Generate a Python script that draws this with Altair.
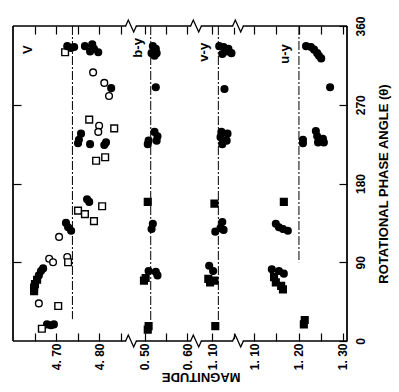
import altair as alt
import pandas as pd

# ---------------- data ----------------
SYM = ["fc", "oc", "fs", "os"]  # filled circle, open circle, filled square, open square

v_phase = [330, 337, 335, 336, 337, 339, 331, 330, 334, 307, 295, 289, 280, 253, 246, 239, 243,
           237, 230, 226, 225, 227, 224, 206, 210, 162, 159, 149, 145, 137, 154, 135, 130, 126,
           119, 96, 90, 94, 90, 83, 80, 75, 70, 65, 61, 57, 43, 40, 19, 18, 19, 14]
v_mag = [4.721, 4.726, 4.735, 4.742, 4.767, 4.784, 4.779, 4.798, 4.788, 4.786, 4.812, 4.828,
         4.823, 4.777, 4.800, 4.798, 4.835, 4.758, 4.753, 4.751, 4.779, 4.816, 4.812, 4.793,
         4.814, 4.772, 4.777, 4.751, 4.767, 4.788, 4.807, 4.723, 4.728, 4.735, 4.707, 4.726,
         4.728, 4.684, 4.693, 4.670, 4.665, 4.660, 4.656, 4.651, 4.649, 4.649, 4.660, 4.705,
         4.679, 4.688, 4.695, 4.667]
v_sym = ["os", "fc", "fc", "fc", "fc", "fc", "fc", "fc", "fc", "oc", "oc", "fc", "oc", "os",
         "oc", "oc", "os", "fc", "fc", "fc", "fc", "fc", "fc", "os", "os", "fc", "fc", "os",
         "os", "os", "os", "fc", "fc", "fc", "oc", "oc", "os", "oc", "oc", "fc", "fc", "fc",
         "fs", "fs", "fs", "fs", "oc", "os", "fc", "fc", "fc", "os"]

by_phase = [337, 334, 329, 329, 326, 290, 239, 234, 229, 229, 225, 159, 134, 128, 80, 79, 75,
            69, 72, 17, 13]
by_mag = [0.519, 0.526, 0.528, 0.516, 0.523, 0.526, 0.523, 0.530, 0.509, 0.528, 0.507, 0.507,
          0.519, 0.516, 0.509, 0.526, 0.530, 0.498, 0.502, 0.509, 0.507]
by_sym = ["fc"] * 11 + ["fs"] + ["fc"] * 5 + ["fs"] * 4

vy_phase = [337, 336, 331, 329, 328, 334, 288, 239, 237, 233, 229, 225, 157, 136, 129, 125,
            127, 86, 80, 71, 67, 69, 17]
vy_mag = [1.116, 1.126, 1.133, 1.144, 1.123, 1.137, 1.128, 1.121, 1.135, 1.119, 1.133, 1.123,
          1.105, 1.123, 1.119, 1.107, 1.126, 1.093, 1.102, 1.091, 1.095, 1.105, 1.107]
vy_sym = ["fc"] * 12 + ["fs"] + ["fc"] * 6 + ["fs"] * 4

uy_phase = [337, 336, 333, 329, 326, 323, 290, 240, 234, 231, 227, 227, 230, 226, 159, 134,
            130, 128, 126, 82, 80, 77, 73, 67, 63, 59, 19, 24]
uy_mag = [1.217, 1.228, 1.235, 1.242, 1.246, 1.251, 1.271, 1.239, 1.242, 1.255, 1.257, 1.244,
          1.210, 1.210, 1.167, 1.149, 1.156, 1.165, 1.176, 1.140, 1.156, 1.167, 1.145, 1.149,
          1.161, 1.165, 1.212, 1.214]
uy_sym = ["fc"] * 14 + ["fs"] + ["fc"] * 7 + ["fs"] * 6

panel_names = ["V", "b-y", "v-y", "u-y"]
mean_mag = [4.738, 0.514, 1.114, 1.201]
mean_end = [25, 12, 15, 90]
label_mag = [4.635, 0.485, 1.080, 1.170]
label_phase = [333, 335, 330, 328]
x_ticks = [[4.65, 4.70, 4.75, 4.80, 4.85], [0.50, 0.55, 0.60], [1.10, 1.15],
           [1.10, 1.15, 1.20, 1.25, 1.30]]
x_domains = [[4.600, 4.874], [0.4674, 0.621], [1.0628, 1.159], [1.064, 1.309]]
phase_ticks = [0, 90, 180, 270, 360]

# ---------------- styling ----------------
FONT = "Liberation Sans"
widths = [118, 65, 42, 109]
HEIGHT = 315
TICK = 8
ZIG = "M -0.9 0 L -0.45 -1 L 0.45 1 L 0.9 0"
MASK = "M -0.8 -0.3 L 0.8 -0.3 L 0.8 0.3 L -0.8 0.3 Z"

series = [(v_phase, v_mag, v_sym), (by_phase, by_mag, by_sym),
          (vy_phase, vy_mag, vy_sym), (uy_phase, uy_mag, uy_sym)]

label_expr = ("round(datum.value*100) % 10 == 0 ? "
              "replace(format(datum.value, '.2f'), '.', '. ') : ''")


def make_panel(i):
    ph, mg, sy = series[i]
    df = pd.DataFrame({"phase": ph, "mag": mg, "sym": sy})
    xscale = alt.Scale(domain=x_domains[i], nice=False, zero=False)
    yscale = alt.Scale(domain=[0, 360], nice=False, zero=False)
    bottom_axis = alt.Axis(orient="bottom", values=x_ticks[i], labelExpr=label_expr,
                           labelAngle=270, domain=False, offset=-TICK, tickSize=TICK,
                           labelPadding=2, title=None, grid=False)
    top_axis = alt.Axis(orient="top", values=x_ticks[i], labels=False, domain=False,
                        offset=-TICK, tickSize=TICK, title=None, grid=False)
    if i == 0:
        yaxis = alt.Axis(orient="left", values=[90, 180, 270], labels=False, domain=False,
                         offset=-TICK, tickSize=TICK, title=None, grid=False)
    elif i == 3:
        yaxis = alt.Axis(orient="right", values=phase_ticks, labelAngle=270, domain=False,
                         offset=-TICK, tickSize=TICK, labelPadding=8, grid=False,
                         title="ROTATIONAL PHASE ANGLE (\u03b8)", titleAngle=270,
                         titlePadding=24)
    else:
        yaxis = None

    pts = alt.Chart(df).mark_point(filled=True, stroke="black", strokeWidth=1.4,
                                   size=45, opacity=1).encode(
        x=alt.X("mag:Q", scale=xscale, axis=bottom_axis),
        y=alt.Y("phase:Q", scale=yscale, axis=yaxis),
        shape=alt.Shape("sym:N", scale=alt.Scale(domain=SYM,
                        range=["circle", "circle", "square", "square"]), legend=None),
        fill=alt.Fill("sym:N", scale=alt.Scale(domain=SYM,
                      range=["black", "white", "black", "white"]), legend=None),
    )

    mdf = pd.DataFrame({"m": [mean_mag[i]], "top": [360], "end": [mean_end[i]]})
    mline = alt.Chart(mdf).mark_rule(color="black", strokeWidth=1,
                                     strokeDash=[9, 2, 2, 2]).encode(
        x=alt.X("m:Q", scale=xscale, axis=top_axis),
        y=alt.Y("top:Q", scale=yscale, axis=None),
        y2="end:Q",
    )

    bdf = pd.DataFrame({"b": [0, 360]})
    border = alt.Chart(bdf).mark_rule(color="black", strokeWidth=1.3).encode(
        y=alt.Y("b:Q", scale=yscale, axis=None))

    tdf = pd.DataFrame({"t": [panel_names[i]], "x": [label_mag[i]], "y": [label_phase[i]]})
    txt = alt.Chart(tdf).mark_text(angle=270, font=FONT, fontSize=13,
                                   fontWeight="bold", color="black").encode(
        x=alt.X("x:Q", scale=xscale, axis=None),
        y=alt.Y("y:Q", scale=yscale, axis=None),
        text="t:N",
    )

    layers = [border, mline, pts, txt]
    if i == 0:
        layers.append(alt.Chart(bdf).mark_rule(color="black", strokeWidth=1.3).encode(
            x=alt.value(0)))
    if i == 3:
        layers.append(alt.Chart(bdf).mark_rule(color="black", strokeWidth=1.3).encode(
            x=alt.value(widths[i])))
    if i > 0:
        mask = alt.Chart(bdf).mark_point(shape=MASK, size=144, filled=True, fill="white",
                                         stroke="white", strokeWidth=0, opacity=1).encode(
            x=alt.value(0), y=alt.Y("b:Q", scale=yscale, axis=None))
        zig = alt.Chart(bdf).mark_point(shape=ZIG, size=144, filled=False, stroke="black",
                                        strokeWidth=1.3, opacity=1).encode(
            x=alt.value(0), y=alt.Y("b:Q", scale=yscale, axis=None))
        layers += [mask, zig]

    return alt.layer(*layers).resolve_axis(x="independent", y="independent").properties(
        width=widths[i], height=HEIGHT)


chart = alt.hconcat(
    *[make_panel(i) for i in range(4)], spacing=0, bounds="flush",
    title=alt.TitleParams("MAGNITUDE", orient="bottom", angle=180, anchor="middle",
                          baseline="bottom", font=FONT, fontSize=13, fontWeight="bold",
                          offset=0),
).resolve_scale(x="independent", y="independent").resolve_axis(
    x="independent", y="independent").configure_view(stroke=None).configure_axis(
    labelFont=FONT, labelFontSize=12, labelFontWeight="bold", labelColor="black",
    titleFont=FONT, titleFontSize=13, titleFontWeight="bold", titleColor="black",
    tickColor="black", tickWidth=1.2,
).properties(padding={"left": 12, "top": 15, "right": 5, "bottom": 5}, background="white")

chart.save("out.html", embed_options={"renderer": "svg", "actions": False})
